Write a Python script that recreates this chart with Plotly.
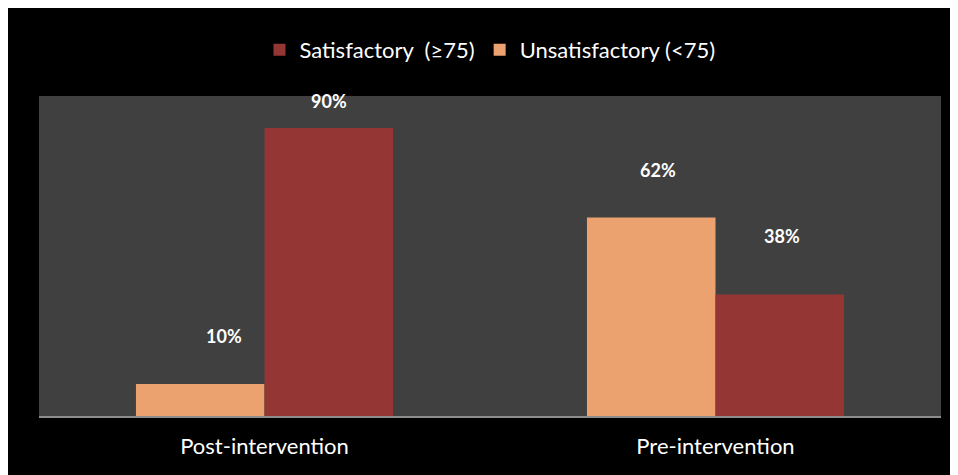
import plotly.graph_objects as go

categories = ["Post-intervention", "Pre-intervention"]
unsatisfactory = [10, 62]
satisfactory = [90, 38]

UNSAT_COLOR = "#EBA26F"
SAT_COLOR = "#943634"
PLOT_BG = "#404040"
FONT = "Lato, 'Open Sans', sans-serif"

# page body adds an 8px margin, so the figure is 950x467
W, H = 950, 467
ML, MR, MT, MB = 31, 17, 88, 59
pw, ph = W - ML - MR, H - MT - MB

fig = go.Figure()
fig.add_trace(go.Bar(
    x=categories, y=unsatisfactory,
    name="Unsatisfactory (<75)",
    marker=dict(color=UNSAT_COLOR, line=dict(width=0)),
))
fig.add_trace(go.Bar(
    x=categories, y=satisfactory,
    name="Satisfactory\u00a0\u00a0(≥75)",
    marker=dict(color=SAT_COLOR, line=dict(width=0)),
))

# data labels above bars (pixel shifts follow the original placement)
bar_px = pw / len(categories) * 0.57 / 2
label_shift = {("u", 0): (24, 48), ("u", 1): (7, 48), ("s", 0): (0, 27), ("s", 1): (2, 58)}
annotations = []
for i, cat in enumerate(categories):
    for key, vals, side in (("u", unsatisfactory, -1), ("s", satisfactory, 1)):
        dx, dy = label_shift[(key, i)]
        annotations.append(dict(
            x=cat, y=vals[i], text=f"<b>{vals[i]}%</b>", showarrow=False,
            xshift=side * bar_px / 2 + dx, yshift=dy,
            font=dict(color="white", size=18, family=FONT),
        ))

fig.update_layout(
    width=W, height=H,
    margin=dict(l=ML, r=MR, t=MT, b=MB),
    paper_bgcolor="black",
    plot_bgcolor=PLOT_BG,
    barmode="group",
    bargap=0.43,
    bargroupgap=0,
    annotations=annotations,
    showlegend=True,
    legend=dict(
        orientation="h", x=0.5, xanchor="center", y=(ph + MT - 42) / ph, yanchor="middle",
        traceorder="reversed", font=dict(color="white", size=22, family=FONT),
        bgcolor="rgba(0,0,0,0)", itemwidth=30,
    ),
    xaxis=dict(
        showgrid=False, showline=True, linecolor="#8C8C8C", linewidth=2,
        tickfont=dict(color="white", size=22, family=FONT), ticks="",
        ticklabelstandoff=10,
    ),
    yaxis=dict(range=[0, 100], visible=False),
    font=dict(family=FONT),
)

fig.write_html("out.html")
